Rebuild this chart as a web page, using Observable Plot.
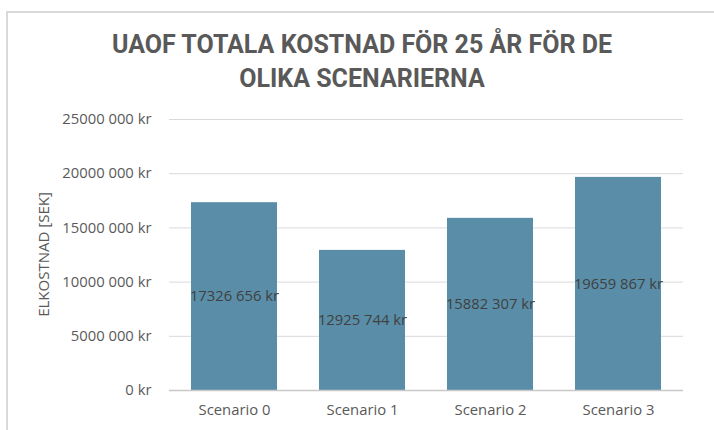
<!DOCTYPE html>
<html><head><meta charset="utf-8">
<script src="https://cdn.jsdelivr.net/npm/d3@7"></script>
<script src="https://cdn.jsdelivr.net/npm/@observablehq/plot@0.6"></script>
<style>
body{margin:0;background:#fff;}
#wrap{position:relative;width:714px;height:430px;overflow:hidden;background:#fff;}
#frame{position:absolute;left:6px;top:11px;width:740px;height:440px;border:2px solid #d9d9d9;box-sizing:border-box;}
#title{position:absolute;left:0;top:28px;width:724px;text-align:center;font-family:Roboto,sans-serif;font-weight:bold;font-size:25px;color:#595959;line-height:34px;}
#chart{position:absolute;left:0;top:100px;}
</style></head>
<body><div id="wrap"><div id="frame"></div>
<div id="title">UAOF TOTALA KOSTNAD FÖR 25 ÅR FÖR DE<br>OLIKA SCENARIERNA</div>
<div id="chart"></div></div>
<script>
const scenarios = ["Scenario 0", "Scenario 1", "Scenario 2", "Scenario 3"];
const costs = [17326656, 12925744, 15882307, 19659867];
const costLabels = ["17326 656 kr", "12925 744 kr", "15882 307 kr", "19659 867 kr"];
const yTicks = [0, 5000000, 10000000, 15000000, 20000000, 25000000];
const yTickLabels = ["0 kr", "5000 000 kr", "10000 000 kr", "15000 000 kr", "20000 000 kr", "25000 000 kr"];
const yTitle = "ELKOSTNAD [SEK]";

const data = scenarios.map((s, i) => ({scenario: s, cost: costs[i], label: costLabels[i]}));
const fontFam = "'Open Sans', 'Liberation Sans', sans-serif";

const chart = Plot.plot({
  width: 714,
  height: 330,
  marginTop: 19,
  marginBottom: 40,
  marginLeft: 169,
  marginRight: 31,
  style: {fontFamily: fontFam, fontSize: "14.8px", color: "#595959", background: "transparent"},
  x: {domain: scenarios, paddingInner: 0.33, paddingOuter: 0.165, label: null, tickSize: 0, tickPadding: 14},
  y: {domain: [0, 25000000], label: null, ticks: yTicks, tickSize: 0, tickPadding: 18,
      tickFormat: d => yTickLabels[yTicks.indexOf(d)]},
  marks: [
    Plot.gridY(yTicks, {stroke: "#d9d9d9", strokeOpacity: 1, strokeWidth: 1}),
    Plot.barY(data, {x: "scenario", y: "cost", fill: "#5a8ea8"}),
    Plot.ruleY([0], {stroke: "#c8c8c8", strokeWidth: 1.5}),
    Plot.text(data, {x: "scenario", y: d => d.cost / 2, text: "label", fill: "#404040", fontSize: 14.8}),
  ]
});
document.getElementById("chart").appendChild(chart);
const svg = d3.select(chart);
svg.append("text")
  .attr("transform", `translate(45, ${(19 + 290) / 2}) rotate(-90)`)
  .attr("text-anchor", "middle").attr("dominant-baseline", "middle")
  .attr("fill", "#595959").attr("font-size", 15).attr("font-family", fontFam)
  .text(yTitle);
</script></body></html>
